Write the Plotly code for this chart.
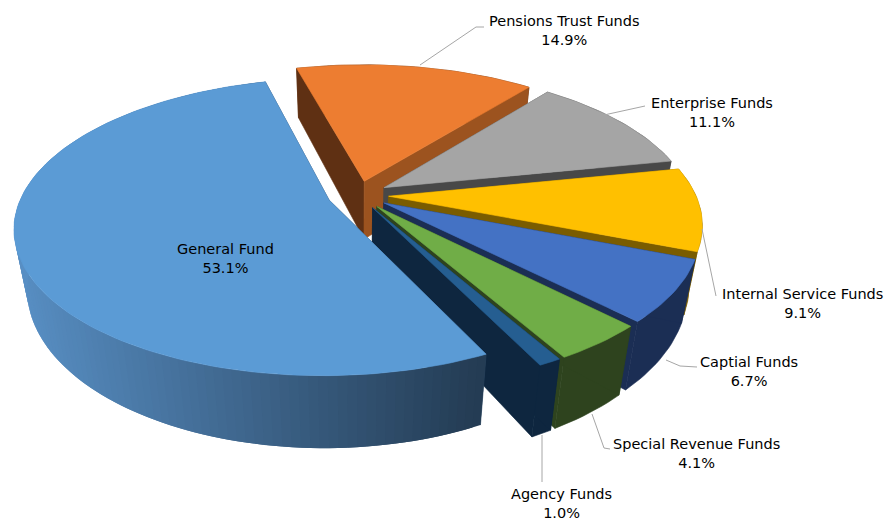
import math
import plotly.graph_objects as go

categories = ["Pensions Trust Funds", "Enterprise Funds", "Internal Service Funds",
              "Captial Funds", "Special Revenue Funds", "Agency Funds", "General Fund"]
values = [14.9, 11.1, 9.1, 6.7, 4.1, 1.0, 53.1]

top_colors = ["#ED7D31", "#A5A5A5", "#FFC000", "#4472C4", "#70AD47", "#255E91", "#5B9BD5"]
wall_colors = ["#5F3013", "#484848", "#7A5C00", "#1B2E54", "#2E431E", "#0E263F", "#2A4560"]
start_wall = ["#5F3013", "#484848", "#7A5C00", "#1B2E54", "#2E431E", "#0E263F", "#2A4560"]
end_wall = ["#9C531F", "#484848", "#7A5C00", "#1B2E54", "#2E431E", "#0E263F", "#2A4560"]

# projection of the pie's plane onto the page
CX, CY, A, B, P, PULL, H, VP = 358, 195, 307, 142, 0.18, 0.1, 59, 1600
START = 345


def project(u, v, lower=False):
    w = 1 / (1 + P * v)
    x = CX + A * u * w
    y = CY - B * v * w
    if lower:
        d = H * w
        x = CX + (x - CX) * (1 - d / VP)
        y = y + d
    return x, y


def polar(theta, r, mid):
    t, m = math.radians(theta), math.radians(mid)
    return r * math.sin(t) + PULL * math.sin(m), r * math.cos(t) + PULL * math.cos(m)


def arc(a0, a1, mid):
    n = max(2, int((a1 - a0) / 1.5) + 1)
    return [polar(a0 + (a1 - a0) * i / n, 1, mid) for i in range(n + 1)]


fig = go.Figure()


def poly(pts, color, name, width=0.6):
    xs = [p[0] for p in pts] + [pts[0][0]]
    ys = [p[1] for p in pts] + [pts[0][1]]
    fig.add_trace(go.Scatter(x=xs, y=ys, mode="lines", fill="toself", fillcolor=color,
                             line=dict(color=color, width=width), name=name,
                             hoverinfo="skip", showlegend=False))


def mix(c0, c1, t):
    return "rgb(%d,%d,%d)" % tuple(round(c0[i] + (c1[i] - c0[i]) * t) for i in range(3))


angle = START
for cat, val, tc, wc, sw, ew in zip(categories, values, top_colors, wall_colors, start_wall, end_wall):
    a0, a1 = angle, angle + val * 3.6
    angle = a1
    mid = (a0 + a1) / 2
    tip = polar(0, 0, mid)
    edge = arc(a0, a1, mid)

    def radial_walls():
        for e, col in ((edge[0], sw), (edge[-1], ew)):
            poly([project(*tip), project(*e), project(*e, True), project(*tip, True)], col, cat)

    if cat == "General Fund":
        radial_walls()
        # painted so each strip overlaps the next one: no seams between strips
        for i in range(len(edge) - 1):
            p, q = edge[i], edge[min(i + 2, len(edge) - 1)]
            x = project(*edge[i])[0]
            t = max(0, min(1, (x - 13) / 470))
            col = mix((88, 143, 196), (36, 60, 84), t)
            poly([project(*p), project(*q), project(*q, True), project(*p, True)], col, cat, 0)
    else:
        poly([project(*p) for p in edge] + [project(*p, True) for p in reversed(edge)], wc, cat)
        radial_walls()
    poly([project(*tip)] + [project(*p) for p in edge], tc, cat)

# leader lines and label centres (page pixels)
leaders = {
    "Pensions Trust Funds": ((420, 65), (476, 27), (484, 27)),
    "Enterprise Funds": ((604, 115), (645, 106)),
    "Internal Service Funds": ((702, 229), (716, 296)),
    "Captial Funds": ((666, 360), (680, 366), (697, 367)),
    "Special Revenue Funds": ((592, 414), (604, 448), (610, 449)),
    "Agency Funds": ((542, 435), (542, 482)),
}
label_pos = {
    "Pensions Trust Funds": (564, 30),
    "Enterprise Funds": (712, 112),
    "Internal Service Funds": (802, 303),
    "Captial Funds": (749, 371),
    "Special Revenue Funds": (696, 453),
    "Agency Funds": (561, 503),
    "General Fund": (225, 258),
}
for name, pts in leaders.items():
    fig.add_trace(go.Scatter(x=[p[0] for p in pts], y=[p[1] for p in pts], mode="lines",
                             line=dict(color="#A6A6A6", width=1), hoverinfo="skip", showlegend=False))

for cat, val in zip(categories, values):
    x, y = label_pos[cat]
    fig.add_annotation(x=x, y=y, text=f"{cat}<br>{val:.1f}%", showarrow=False, xref="x", yref="y",
                       font=dict(family="DejaVu Sans", size=14.5, color="#000000"), align="center")

fig.update_xaxes(range=[0, 885], visible=False, fixedrange=True)
fig.update_yaxes(range=[521, 0], visible=False, fixedrange=True)
fig.update_layout(width=885, height=521, margin=dict(l=0, r=0, t=0, b=0),
                  paper_bgcolor="white", plot_bgcolor="white", showlegend=False)
fig.write_html("out.html", config={"displayModeBar": False},
               post_script="document.body.style.margin='0';document.documentElement.style.overflow='hidden';")
